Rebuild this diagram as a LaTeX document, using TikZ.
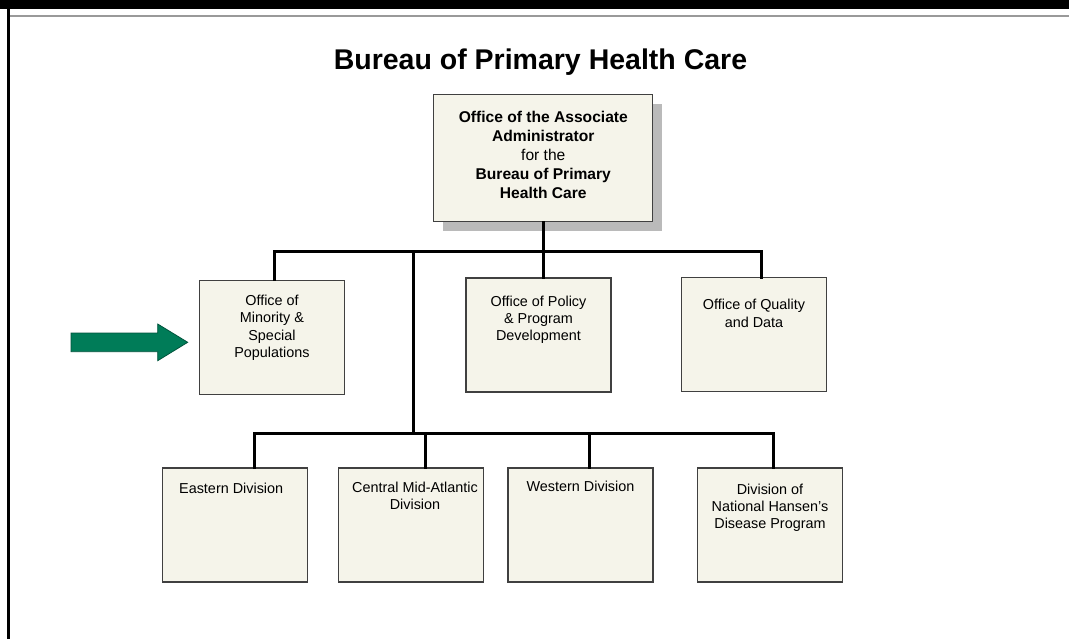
\documentclass[tikz,border=0pt]{standalone}
\usepackage{fontspec}
\setmainfont{Liberation Sans}
\usetikzlibrary{positioning,shadows}

\definecolor{boxfill}{RGB}{245,244,234}
\definecolor{boxline}{RGB}{64,64,64}
\definecolor{arrowgreen}{RGB}{0,124,88}
\definecolor{arrowline}{RGB}{0,84,60}

\tikzset{
  unit/.style={draw=boxline, fill=boxfill, line width=1.2pt,
    minimum width=145pt, minimum height=114pt, inner sep=0pt},
  lbl/.style={align=center, inner sep=0pt,
    font=\fontsize{14.4}{17.3}\selectfont},
  link/.style={line width=3pt, line cap=rect},
}

\begin{document}
\begin{tikzpicture}[x=1pt,y=-1pt]

    % marco
    \useasboundingbox (0,0) rectangle (1069,639);
    \fill[white] (0,0) rectangle (1069,639);
    \fill[black] (0,0) rectangle (1069,9);
    \fill[black] (7,0) rectangle (10,639);
    \draw[black!40, line width=2pt] (10,16) -- (1069,16);

    % titulo
    \node (title) at (540.5,62) {\fontsize{28.5}{32}\selectfont\bfseries Bureau of Primary Health Care};

    % administrador
    \node[unit, minimum width=219pt, minimum height=127pt,
      drop shadow={shadow xshift=9pt, shadow yshift=-10pt, fill=black!27, opacity=1},
      font=\fontsize{15.6}{19.2}\selectfont, align=center] (admin) at (543.3,158)
      {\bfseries Office of the Associate\\ \bfseries Administrator\\ for the\\
       \bfseries Bureau of Primary\\ \bfseries Health Care\\[-13pt]};

    % oficinas
    \node[unit] (minority) at (272,337.5) {};
    \node[unit] (policy) at (538.5,335) {};
    \node[unit] (quality) at (754,334.7) {};

    % divisiones
    \node[unit] (eastern) at (235.2,525) {};
    \node[unit] (central) at (411,525) {};
    \node[unit] (western) at (580.5,525) {};
    \node[unit] (hansen) at (770,525) {};

    % textos
    \node[lbl, below=15pt of minority.north] {Office of\\ Minority \&\\ Special\\ Populations};
    \node[lbl, below=18pt of policy.north] {Office of Policy\\ \& Program\\ Development};
    \node[lbl, below=22pt of quality.north] {Office of Quality\\ and Data};
    \node[lbl, below=15pt of eastern.north, xshift=-4pt] {Eastern Division};
    \node[lbl, below=14.5pt of central.north, xshift=4pt] {Central Mid-Atlantic\\ Division};
    \node[lbl, below=13.5pt of western.north] {Western Division};
    \node[lbl, below=16pt of hansen.north] {Division of\\ National Hansen's\\ Disease Program};

    % lineas
    \coordinate (bus1) at (413.5,252);
    \coordinate (bus2) at (413.5,433.5);
    \draw[link] (admin.south) -- (admin.south |- policy.north);
    \draw[link] ([xshift=2pt]minority.north) |- (bus1) -| ([xshift=7.7pt]quality.north);
    \draw[link] (bus1) -- (bus2);
    \draw[link] ([xshift=18.8pt]eastern.north) |- (bus2) -| ([xshift=3pt]hansen.north);
    \draw[link] ([xshift=14.7pt]central.north) -- ([xshift=14.7pt]central.north |- bus2);
    \draw[link] ([xshift=8.5pt]western.north) -- ([xshift=8.5pt]western.north |- bus2);

    % flecha
    \filldraw[fill=arrowgreen, draw=arrowline, line width=0.8pt]
      (71,333) -- (157.7,333) -- (157.7,324) -- (187.7,342.3)
      -- (157.7,360.7) -- (157.7,351.7) -- (71,351.7) -- cycle;

\end{tikzpicture}
\end{document}
